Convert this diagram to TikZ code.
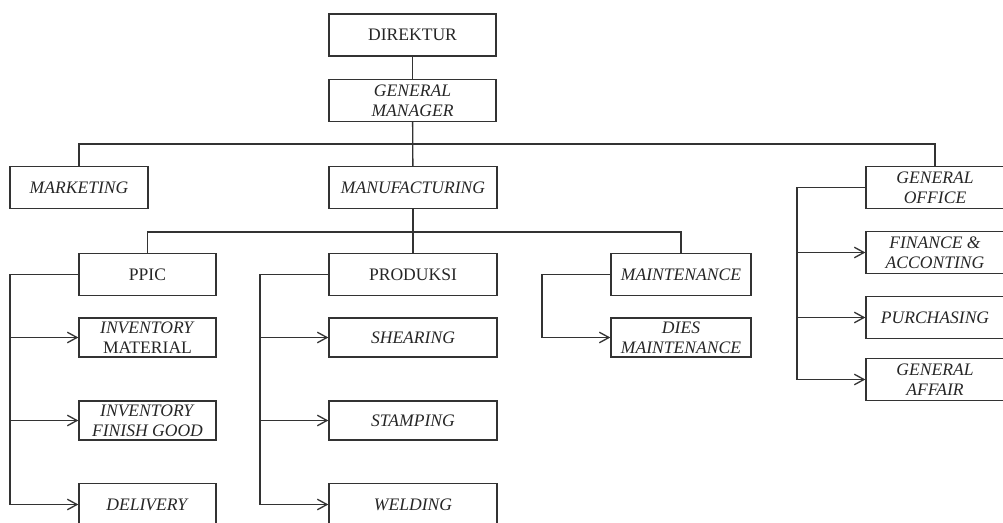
\documentclass[tikz,border=0pt]{standalone}
\usepackage{fontspec}
\setmainfont{Liberation Serif}
\usetikzlibrary{arrows.meta}

\begin{document}
\begin{tikzpicture}[x=0.02cm,y=-0.02cm]
	\tikzset{>={Straight Barb[length=5.5pt,width=6pt]}}
	\tikzset{unit/.style={draw=black!80,line width=0.75pt,minimum height=0.84cm,inner sep=1pt,align=center,text=black!85,font=\fontsize{10}{11.6}\selectfont}}
	\tikzset{link/.style={draw=black!80,line width=0.75pt}}
	\useasboundingbox (0,0) rectangle (1003,523);
	\node[unit,minimum width=3.34cm] (dir) at (412.5,35) {DIREKTUR};
	\node[unit,minimum width=3.34cm] (gm) at (412.5,100.5) {\textit{GENERAL}\\\textit{MANAGER}};
	\node[unit,minimum width=2.76cm] (mkt) at (79,187.5) {\textit{MARKETING}};
	\node[unit,minimum width=3.36cm] (man) at (413,187.5) {\textit{MANUFACTURING}};
	\node[unit,minimum width=2.76cm] (go) at (935,187.5) {\textit{GENERAL}\\\textit{OFFICE}};
	\node[unit,minimum width=2.74cm] (ppic) at (147.5,274.5) {PPIC};
	\node[unit,minimum width=3.36cm] (prod) at (413,274.5) {PRODUKSI};
	\node[unit,minimum width=2.80cm] (mnt) at (681,274.5) {\textit{MAINTENANCE}};
	\node[unit,minimum width=2.74cm,minimum height=0.78cm] (invm) at (147.5,337.5) {\textit{INVENTORY}\\MATERIAL};
	\node[unit,minimum width=2.74cm,minimum height=0.78cm] (invf) at (147.5,420.5) {\textit{INVENTORY}\\\textit{FINISH GOOD}};
	\node[unit,minimum width=2.74cm] (del) at (147.5,504.5) {\textit{DELIVERY}};
	\node[unit,minimum width=3.36cm,minimum height=0.78cm] (shr) at (413,337.5) {\textit{SHEARING}};
	\node[unit,minimum width=3.36cm,minimum height=0.78cm] (stp) at (413,420.5) {\textit{STAMPING}};
	\node[unit,minimum width=3.36cm] (wld) at (413,504.5) {\textit{WELDING}};
	\node[unit,minimum width=2.80cm,minimum height=0.78cm] (dies) at (681,337.5) {\textit{DIES}\\\textit{MAINTENANCE}};
	\node[unit,minimum width=2.76cm] (fin) at (935,252.5) {\textit{FINANCE \&}\\\textit{ACCONTING}};
	\node[unit,minimum width=2.76cm] (pur) at (935,317.5) {\textit{PURCHASING}};
	\node[unit,minimum width=2.76cm] (ga) at (935,379.5) {\textit{GENERAL}\\\textit{AFFAIR}};
	\coordinate (ppicbus) at (10,274.5);
	\coordinate (prodbus) at (260,274.5);
	\coordinate (mntbus) at (542,274.5);
	\coordinate (gobus) at (797,187.5);
	\draw[link] (dir) -- (gm);
	\draw[link] (gm) -- (man);
	\draw[link] (mkt.north) -- ++(0,-22) -| (go.north);
	\draw[link] (man) -- (prod);
	\draw[link] (ppic.north) -- ++(0,-21) -| (mnt.north);
	\draw[link,->] (ppic.west) -- (ppicbus) |- (del.west);
	\draw[link,->] (ppicbus |- invm.west) -- (invm.west);
	\draw[link,->] (ppicbus |- invf.west) -- (invf.west);
	\draw[link,->] (prod.west) -- (prodbus) |- (wld.west);
	\draw[link,->] (prodbus |- shr.west) -- (shr.west);
	\draw[link,->] (prodbus |- stp.west) -- (stp.west);
	\draw[link,->] (mnt.west) -- (mntbus) |- (dies.west);
	\draw[link,->] (go.west) -- (gobus) |- (ga.west);
	\draw[link,->] (gobus |- fin.west) -- (fin.west);
	\draw[link,->] (gobus |- pur.west) -- (pur.west);
\end{tikzpicture}
\end{document}
